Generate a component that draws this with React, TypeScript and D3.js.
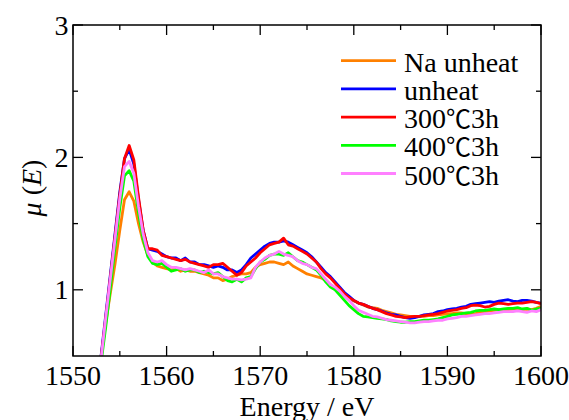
import React from "react";
import * as d3 from "d3";

// Energy grid (eV), 0.5 eV sampling from 1552.5 to 1600
const energy: number[] = d3.range(1552.5, 1600.001, 0.5);

const naUnheat: number[] = [
  0.19, 0.50, 0.75, 0.98, 1.20, 1.45, 1.68, 1.74, 1.67, 1.50,
  1.36, 1.26, 1.21, 1.18, 1.17, 1.16, 1.15, 1.16, 1.14, 1.15,
  1.14, 1.14, 1.13, 1.12, 1.11, 1.09, 1.09, 1.07, 1.08, 1.10,
  1.11, 1.12, 1.12, 1.13, 1.17, 1.19, 1.20, 1.21, 1.21, 1.20,
  1.19, 1.21, 1.18, 1.16, 1.14, 1.12, 1.11, 1.10, 1.09, 1.07,
  1.04, 1.01, 0.97, 0.95, 0.93, 0.915, 0.90, 0.885, 0.87, 0.865,
  0.86, 0.845, 0.835, 0.825, 0.815, 0.81, 0.805, 0.80, 0.80, 0.80,
  0.80, 0.805, 0.805, 0.81, 0.815, 0.82, 0.82, 0.825, 0.825, 0.82,
  0.815, 0.82, 0.83, 0.835, 0.84, 0.845, 0.85, 0.85, 0.85, 0.855,
  0.855, 0.85, 0.855, 0.85, 0.86, 0.875,
];

const unheat: number[] = [
  0.19, 0.50, 0.81, 1.12, 1.43, 1.74, 1.99, 2.06, 1.95, 1.68,
  1.45, 1.31, 1.30, 1.29, 1.27, 1.25, 1.24, 1.24, 1.22, 1.24,
  1.21, 1.21, 1.19, 1.19, 1.18, 1.17, 1.18, 1.17, 1.15, 1.15,
  1.13, 1.15, 1.19, 1.24, 1.27, 1.30, 1.33, 1.35, 1.36, 1.36,
  1.37, 1.36, 1.34, 1.32, 1.30, 1.28, 1.25, 1.21, 1.17, 1.13,
  1.10, 1.06, 1.02, 0.98, 0.95, 0.92, 0.90, 0.89, 0.875, 0.86,
  0.85, 0.84, 0.825, 0.815, 0.81, 0.80, 0.79, 0.785, 0.79, 0.80,
  0.81, 0.815, 0.82, 0.835, 0.84, 0.85, 0.855, 0.86, 0.87, 0.875,
  0.89, 0.895, 0.90, 0.905, 0.91, 0.905, 0.915, 0.92, 0.925, 0.915,
  0.91, 0.92, 0.92, 0.915, 0.905, 0.90,
];

const heat300: number[] = [
  0.17, 0.48, 0.79, 1.10, 1.41, 1.72, 1.99, 2.09, 1.98, 1.70,
  1.45, 1.31, 1.31, 1.30, 1.26, 1.25, 1.24, 1.23, 1.22, 1.23,
  1.21, 1.20, 1.19, 1.18, 1.17, 1.19, 1.19, 1.20, 1.17, 1.14,
  1.11, 1.13, 1.18, 1.21, 1.24, 1.28, 1.31, 1.34, 1.35, 1.36,
  1.39, 1.34, 1.33, 1.31, 1.29, 1.27, 1.24, 1.21, 1.16, 1.12,
  1.09, 1.05, 1.01, 0.97, 0.94, 0.92, 0.90, 0.89, 0.875, 0.86,
  0.85, 0.835, 0.82, 0.81, 0.80, 0.795, 0.79, 0.795, 0.80, 0.80,
  0.805, 0.81, 0.815, 0.82, 0.83, 0.84, 0.845, 0.85, 0.86, 0.865,
  0.88, 0.885, 0.88, 0.87, 0.875, 0.89, 0.90, 0.895, 0.89, 0.895,
  0.90, 0.90, 0.905, 0.91, 0.905, 0.895,
];

const heat400: number[] = [
  0.14, 0.45, 0.72, 1.02, 1.33, 1.62, 1.86, 1.90, 1.82, 1.58,
  1.38, 1.25, 1.20, 1.19, 1.20, 1.17, 1.14, 1.15, 1.16, 1.14,
  1.15, 1.15, 1.13, 1.14, 1.13, 1.12, 1.13, 1.10, 1.07, 1.06,
  1.08, 1.06, 1.09, 1.10, 1.16, 1.21, 1.23, 1.26, 1.27, 1.27,
  1.26, 1.28, 1.25, 1.22, 1.21, 1.19, 1.17, 1.15, 1.11, 1.06,
  1.02, 1.00, 0.96, 0.92, 0.88, 0.85, 0.82, 0.80, 0.795, 0.79,
  0.785, 0.78, 0.775, 0.765, 0.76, 0.755, 0.755, 0.76, 0.76, 0.765,
  0.77, 0.77, 0.775, 0.78, 0.79, 0.80, 0.81, 0.815, 0.82, 0.825,
  0.83, 0.84, 0.845, 0.845, 0.85, 0.855, 0.85, 0.855, 0.86, 0.86,
  0.865, 0.855, 0.86, 0.845, 0.855, 0.86,
];

const heat500: number[] = [
  0.17, 0.48, 0.79, 1.09, 1.39, 1.69, 1.93, 1.97, 1.88, 1.63,
  1.42, 1.28, 1.22, 1.21, 1.22, 1.19, 1.17, 1.17, 1.16, 1.15,
  1.16, 1.15, 1.14, 1.13, 1.15, 1.12, 1.12, 1.10, 1.09, 1.08,
  1.08, 1.075, 1.08, 1.09, 1.17, 1.21, 1.24, 1.26, 1.27, 1.29,
  1.27, 1.26, 1.25, 1.22, 1.20, 1.19, 1.17, 1.16, 1.12, 1.08,
  1.04, 1.02, 0.99, 0.95, 0.92, 0.88, 0.845, 0.83, 0.815, 0.80,
  0.795, 0.785, 0.775, 0.77, 0.765, 0.76, 0.755, 0.75, 0.75, 0.755,
  0.76, 0.76, 0.765, 0.77, 0.77, 0.78, 0.785, 0.79, 0.80, 0.80,
  0.805, 0.81, 0.815, 0.82, 0.82, 0.825, 0.83, 0.835, 0.835, 0.835,
  0.84, 0.835, 0.83, 0.84, 0.835, 0.85,
];

const seriesNames: string[] = ["Na unheat", "unheat", "300℃3h", "400℃3h", "500℃3h"];
const seriesColors: string[] = ["#FF8000", "#0000FF", "#FF0000", "#00FF00", "#FF80FF"];
const seriesValues: number[][] = [naUnheat, unheat, heat300, heat400, heat500];

const xMajorTicks: number[] = [1550, 1560, 1570, 1580, 1590, 1600];
const xMinorTicks: number[] = [1555, 1565, 1575, 1585, 1595];
const yMajorTicks: number[] = [1, 2, 3];
const yMinorTicks: number[] = [1.5, 2.5];

const W = 569;
const H = 420;
const L = 73;
const R = 541;
const T = 25;
const B = 356;
const FONT = '"Liberation Serif", "Times New Roman", Times, "DejaVu Serif", serif';
const CJK = '"Noto Sans CJK JP", "Noto Sans CJK SC", sans-serif';

export default function App() {
  const x = d3.scaleLinear().domain([1550, 1600]).range([L, R]);
  const y = d3.scaleLinear().domain([0.5, 3]).range([B, T]);
  const line = d3
    .line<[number, number]>()
    .x((d) => x(d[0]))
    .y((d) => y(d[1]));

  const major = 10;
  const minor = 5;
  const txt: React.CSSProperties = { fontFamily: FONT, fontSize: 28 };

  const renderLabel = (s: string) => {
    const parts = s.split("℃");
    if (parts.length === 1) return s;
    return (
      <>
        {parts[0]}
        <tspan style={{ fontFamily: CJK, fontSize: 25 }}>℃</tspan>
        {parts[1]}
      </>
    );
  };

  return (
    <svg
      width={W}
      height={H}
      style={{ position: "absolute", left: 0, top: 0, background: "#fff" }}
    >
      <defs>
        <clipPath id="plotClip">
          <rect x={L} y={T} width={R - L} height={B - T} />
        </clipPath>
      </defs>

      <g clipPath="url(#plotClip)">
        {seriesValues.map((vals, i) => (
          <path
            key={i}
            d={line(energy.map((e, j) => [e, vals[j]] as [number, number])) || ""}
            fill="none"
            stroke={seriesColors[i]}
            strokeWidth={2.8}
            strokeLinejoin="round"
          />
        ))}
      </g>

      {/* frame */}
      <rect x={L} y={T} width={R - L} height={B - T} fill="none" stroke="#000" strokeWidth={1.5} />

      {/* x ticks */}
      {xMajorTicks.map((t) => (
        <g key={"xM" + t}>
          <line x1={x(t)} x2={x(t)} y1={B} y2={B - major} stroke="#000" strokeWidth={1.3} />
          <line x1={x(t)} x2={x(t)} y1={T} y2={T + major} stroke="#000" strokeWidth={1.3} />
          <text x={x(t)} y={385} textAnchor="middle" style={txt}>
            {t}
          </text>
        </g>
      ))}
      {xMinorTicks.map((t) => (
        <g key={"xm" + t}>
          <line x1={x(t)} x2={x(t)} y1={B} y2={B - minor} stroke="#000" strokeWidth={1.3} />
          <line x1={x(t)} x2={x(t)} y1={T} y2={T + minor} stroke="#000" strokeWidth={1.3} />
        </g>
      ))}

      {/* y ticks */}
      {yMajorTicks.map((t) => (
        <g key={"yM" + t}>
          <line x1={L} x2={L + major} y1={y(t)} y2={y(t)} stroke="#000" strokeWidth={1.3} />
          <line x1={R} x2={R - major} y1={y(t)} y2={y(t)} stroke="#000" strokeWidth={1.3} />
          <text x={68.5} y={y(t) + 9.5} textAnchor="end" style={txt}>
            {t}
          </text>
        </g>
      ))}
      {yMinorTicks.map((t) => (
        <g key={"ym" + t}>
          <line x1={L} x2={L + minor} y1={y(t)} y2={y(t)} stroke="#000" strokeWidth={1.3} />
          <line x1={R} x2={R - minor} y1={y(t)} y2={y(t)} stroke="#000" strokeWidth={1.3} />
        </g>
      ))}

      {/* axis titles */}
      <text x={(L + R) / 2} y={416} textAnchor="middle" style={txt}>
        Energy / eV
      </text>
      <text transform="translate(41,188) rotate(-90)" textAnchor="middle" style={txt}>
        <tspan fontStyle="italic">μ</tspan>
        <tspan> (</tspan>
        <tspan fontStyle="italic">E</tspan>
        <tspan>)</tspan>
      </text>

      {/* legend */}
      {seriesNames.map((name, i) => {
        const ly = 60.7 + i * 28.2;
        return (
          <g key={"lg" + i}>
            <line x1={341} x2={396} y1={ly} y2={ly} stroke={seriesColors[i]} strokeWidth={2.8} />
            <text x={404} y={ly + 11} style={txt}>
              {renderLabel(name)}
            </text>
          </g>
        );
      })}
    </svg>
  );
}
